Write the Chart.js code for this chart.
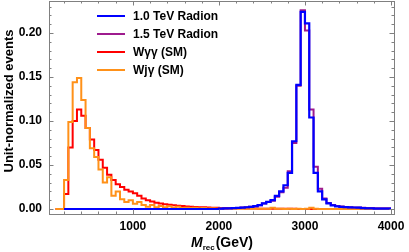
<!DOCTYPE html>
<html lang="es">
<head>
<meta charset="utf-8">
<title>Distribución de M_rec</title>
<script src="https://cdn.jsdelivr.net/npm/chart.js@4.4.1/dist/chart.umd.min.js"></script>
<style>
  html, body { margin: 0; padding: 0; background: #ffffff; }
  #contenedor { position: relative; width: 409px; height: 252px; }
</style>
</head>
<body>
<div id="contenedor"><canvas id="grafica-mrec"></canvas></div>
<script>
/* ===== CONSTANTES DE DATOS ===== */

const ANCHO_BIN          = 50;    // GeV
const INICIO_FONDO       = 100;   // primer bin de Wγγ y Wjγ
const INICIO_RADION      = 200;   // las señales empiezan aquí, vacías hasta 2000
const INICIO_PICO_RADION = 2000;

const ETIQUETAS_SERIES = ["1.0 TeV Radion", "1.5 TeV Radion", "Wγγ (SM)", "Wjγ (SM)"];
const COLORES_SERIES   = ["#0000ff", "#9e1b8e", "#ff0000", "#ff9119"];

const TICKS_X = [1000, 2000, 3000, 4000];
const TICKS_Y = [0, 0.05, 0.10, 0.15, 0.20];

// Wγγ (SM), bins de 100 a 3950 GeV
const DATOS_WAA = [
  0, 0, 0.017, 0.070, 0.100, 0.113, 0.106, 0.092, 0.079, 0.067,
  0.056, 0.047, 0.039, 0.033, 0.028, 0.025, 0.022, 0.020, 0.018, 0.015,
  0.012, 0.010, 0.0085, 0.0072, 0.0062, 0.0055, 0.0048, 0.0042, 0.0037, 0.0033,
  0.0029, 0.0026, 0.0023, 0.0021, 0.0019, 0.0017, 0.0015, 0.0014, 0.0012, 0.0011,
  0.0010, 0.0009, 0.0008, 0.0007, 0.0006, 0.0005, 0.0005, 0.0004, 0.0004, 0.0003,
  0.0003, 0.0003, 0.0002, 0.0002, 0.0002, 0.0002, 0.0001, 0.0001, 0.0001, 0.0001,
  0.0001, 0.0001, 0.0001, 0, 0, 0.0001, 0, 0, 0, 0,
  0, 0, 0, 0, 0, 0, 0, 0,
];

// Wjγ (SM), bins de 100 a 3950 GeV
const DATOS_WJA = [
  0, 0, 0.033, 0.099, 0.144, 0.149, 0.124, 0.092, 0.069, 0.059,
  0.045, 0.030, 0.036, 0.015, 0.020, 0.011, 0.008, 0.010, 0.006, 0.008,
  0.0045, 0.0025, 0.0045, 0.002, 0.0035, 0.002, 0.003, 0.0015, 0.0025, 0.001,
  0.0015, 0.001, 0.0015, 0.0008, 0.001, 0.0005, 0.0008, 0.0005, 0.0006, 0.0003,
  0.0004, 0.0003, 0.0004, 0.0002, 0.0003, 0.0002, 0.0002, 0.0002, 0.0003, 0.0002,
  0.0015, 0.0002, 0.0002, 0.0001, 0.0002, 0.0001, 0.0002, 0.0001, 0.0002, 0.0015,
  0.0002, 0.0001, 0.0001, 0.0001, 0.0001, 0.0001, 0.0001, 0.0001, 0.0001, 0,
  0, 0, 0, 0, 0, 0, 0, 0,
];

// 1.0 TeV Radion, bins de 2000 a 3950 GeV
const DATOS_RADION_10 = [
  0.0003, 0.0006, 0.0008, 0.0010, 0.0013, 0.0016, 0.0020, 0.0025, 0.0032, 0.0045,
  0.0064, 0.008, 0.010, 0.015, 0.020, 0.027, 0.041, 0.077, 0.141, 0.224,
  0.211, 0.104, 0.041, 0.020, 0.011, 0.0064, 0.0042, 0.0030, 0.0025, 0.0021,
  0.0019, 0.0017, 0.0015, 0.0010, 0.0008, 0.0006, 0.0005, 0.0004, 0.0004, 0.0003,
];

// 1.5 TeV Radion, bins de 2000 a 3950 GeV
const DATOS_RADION_15 = [
  0.0003, 0.0005, 0.0008, 0.0010, 0.0012, 0.0016, 0.0019, 0.0024, 0.0031, 0.0043,
  0.0062, 0.0078, 0.0095, 0.014, 0.019, 0.024, 0.043, 0.075, 0.140, 0.226,
  0.203, 0.113, 0.048, 0.023, 0.012, 0.0068, 0.0045, 0.0033, 0.0027, 0.0023,
  0.0020, 0.0018, 0.0016, 0.0013, 0.0011, 0.0010, 0.0009, 0.0008, 0.0008, 0.0007,
];

/* ===== ESTILO ===== */

const FUENTE      = "'Liberation Sans', Arial, sans-serif";
const COLOR_MARCO = "#808080";

/* ===== HISTOGRAMAS ===== */

/**
 * Convierte una lista de alturas de bin en puntos de borde
 * para dibujarla como escalón.
 */
function construirPuntosHistograma(inicio, valores) {
  const puntos = valores.map(function(v, i) {
    return { x: inicio + i * ANCHO_BIN, y: v };
  });
  puntos.push({ x: inicio + valores.length * ANCHO_BIN, y: valores[valores.length - 1] });
  return puntos;
}

function construirPuntosRadion(valores) {
  return [{ x: INICIO_RADION, y: 0 }].concat(construirPuntosHistograma(INICIO_PICO_RADION, valores));
}

function serie(indice, puntos, grosor) {
  return {
    label:       ETIQUETAS_SERIES[indice],
    data:        puntos,
    borderColor: COLORES_SERIES[indice],
    borderWidth: grosor,
    pointRadius: 0,
    stepped:     true,
    fill:        false,
  };
}

/* ===== MARCO, LEYENDA Y TÍTULOS ===== */

function dibujarTicks(ctx, area, escX, escY) {
  ctx.strokeStyle = COLOR_MARCO;
  ctx.lineWidth = 1;
  ctx.beginPath();

  for (let i = 1; i <= 20; i++) {
    const px = Math.round(escX.getPixelForValue(i * 200)) + 0.5;
    const largo = i % 5 === 0 ? 4.5 : 2.5;
    ctx.moveTo(px, area.bottom); ctx.lineTo(px, area.bottom - largo);
    ctx.moveTo(px, area.top);    ctx.lineTo(px, area.top + largo);
  }
  for (let i = 0; i <= 23; i++) {
    const py = Math.round(escY.getPixelForValue(i / 100)) + 0.5;
    const largo = i % 5 === 0 ? 4.5 : 2.5;
    ctx.moveTo(area.left, py);  ctx.lineTo(area.left + largo, py);
    ctx.moveTo(area.right, py); ctx.lineTo(area.right - largo, py);
  }
  ctx.stroke();

  ctx.strokeRect(Math.round(area.left) + 0.5, Math.round(area.top) + 0.5,
                 Math.round(area.right - area.left), Math.round(area.bottom - area.top));
}

function dibujarLeyenda(ctx) {
  const filas = [16, 34, 52, 70];
  ctx.font = "bold 12px " + FUENTE;
  ctx.textBaseline = "middle";
  ctx.textAlign = "left";
  filas.forEach(function(y, i) {
    ctx.strokeStyle = COLORES_SERIES[i];
    ctx.lineWidth = 2;
    ctx.beginPath();
    ctx.moveTo(97, y);
    ctx.lineTo(125, y);
    ctx.stroke();
    ctx.fillStyle = "#000";
    ctx.fillText(ETIQUETAS_SERIES[i], 133, y + 0.5);
  });
}

function dibujarTitulos(ctx) {
  // eje x: M_rec(GeV)
  const fM   = "italic bold 14px " + FUENTE;
  const fSub = "bold 8px " + FUENTE;
  const fGev = "bold 14px " + FUENTE;
  ctx.textBaseline = "alphabetic";
  ctx.textAlign = "left";
  ctx.fillStyle = "#000";
  ctx.font = fM;   const wM = ctx.measureText("M").width;
  ctx.font = fSub; const wS = ctx.measureText("rec").width;
  ctx.font = fGev; const wG = ctx.measureText("(GeV)").width;
  let x = 222 - (wM + wS + 1 + wG) / 2;
  ctx.font = fM;   ctx.fillText("M", x, 247);      x += wM;
  ctx.font = fSub; ctx.fillText("rec", x, 249.5);  x += wS + 1;
  ctx.font = fGev; ctx.fillText("(GeV)", x, 247);

  // eje y
  ctx.save();
  ctx.translate(9, 101);
  ctx.rotate(-Math.PI / 2);
  ctx.font = "bold 13px " + FUENTE;
  ctx.textAlign = "center";
  ctx.textBaseline = "middle";
  ctx.fillText("Unit-normalized events", 0, 0);
  ctx.restore();
}

const pluginMarco = {
  id: "marco",
  afterDatasetsDraw: function(chart) {
    const ctx = chart.ctx;
    ctx.save();
    dibujarTicks(ctx, chart.chartArea, chart.scales.x, chart.scales.y);
    dibujarLeyenda(ctx);
    dibujarTitulos(ctx);
    ctx.restore();
  },
};

/* ===== GRÁFICA ===== */

function inicializarGrafica() {
  const lienzo = document.getElementById("grafica-mrec");

  new Chart(lienzo, {
    type: "line",
    data: {
      datasets: [
        serie(0, construirPuntosRadion(DATOS_RADION_10), 2.2),
        serie(1, construirPuntosRadion(DATOS_RADION_15), 2),
        serie(3, construirPuntosHistograma(INICIO_FONDO, DATOS_WJA), 2),
        serie(2, construirPuntosHistograma(INICIO_FONDO, DATOS_WAA), 2),
      ],
    },
    options: {
      responsive:          true,
      maintainAspectRatio: false,
      animation:           false,
      layout: { padding: { top: 1, right: 15, bottom: 0, left: 0 } },
      plugins: {
        legend:  { display: false },
        tooltip: { enabled: false },
      },
      scales: {
        x: {
          type: "linear",
          min:  25,
          max:  4035,
          grid:   { display: false, drawTicks: false },
          border: { display: false },
          ticks: {
            color: "#000",
            font: { family: FUENTE, size: 12, weight: "bold" },
            padding: 5,
            maxRotation: 0,
            callback: function(v) { return String(v); },
          },
          afterBuildTicks: function(escala) {
            escala.ticks = TICKS_X.map(function(v) { return { value: v }; });
          },
          afterFit: function(escala) {
            escala.height = 38;
            escala.paddingLeft = 0;
            escala.paddingRight = 0;
          },
        },
        y: {
          min: -0.0057,
          max: 0.2364,
          grid:   { display: false, drawTicks: false },
          border: { display: false },
          ticks: {
            color: "#000",
            font: { family: FUENTE, size: 12, weight: "bold" },
            padding: 7,
            callback: function(v) { return Number(v).toFixed(2); },
          },
          afterBuildTicks: function(escala) {
            escala.ticks = TICKS_Y.map(function(v) { return { value: v }; });
          },
          afterFit: function(escala) {
            escala.width = 49;
            escala.paddingTop = 0;
            escala.paddingBottom = 0;
          },
        },
      },
    },
    plugins: [pluginMarco],
  });
}

document.addEventListener("DOMContentLoaded", inicializarGrafica);
</script>
</body>
</html>
